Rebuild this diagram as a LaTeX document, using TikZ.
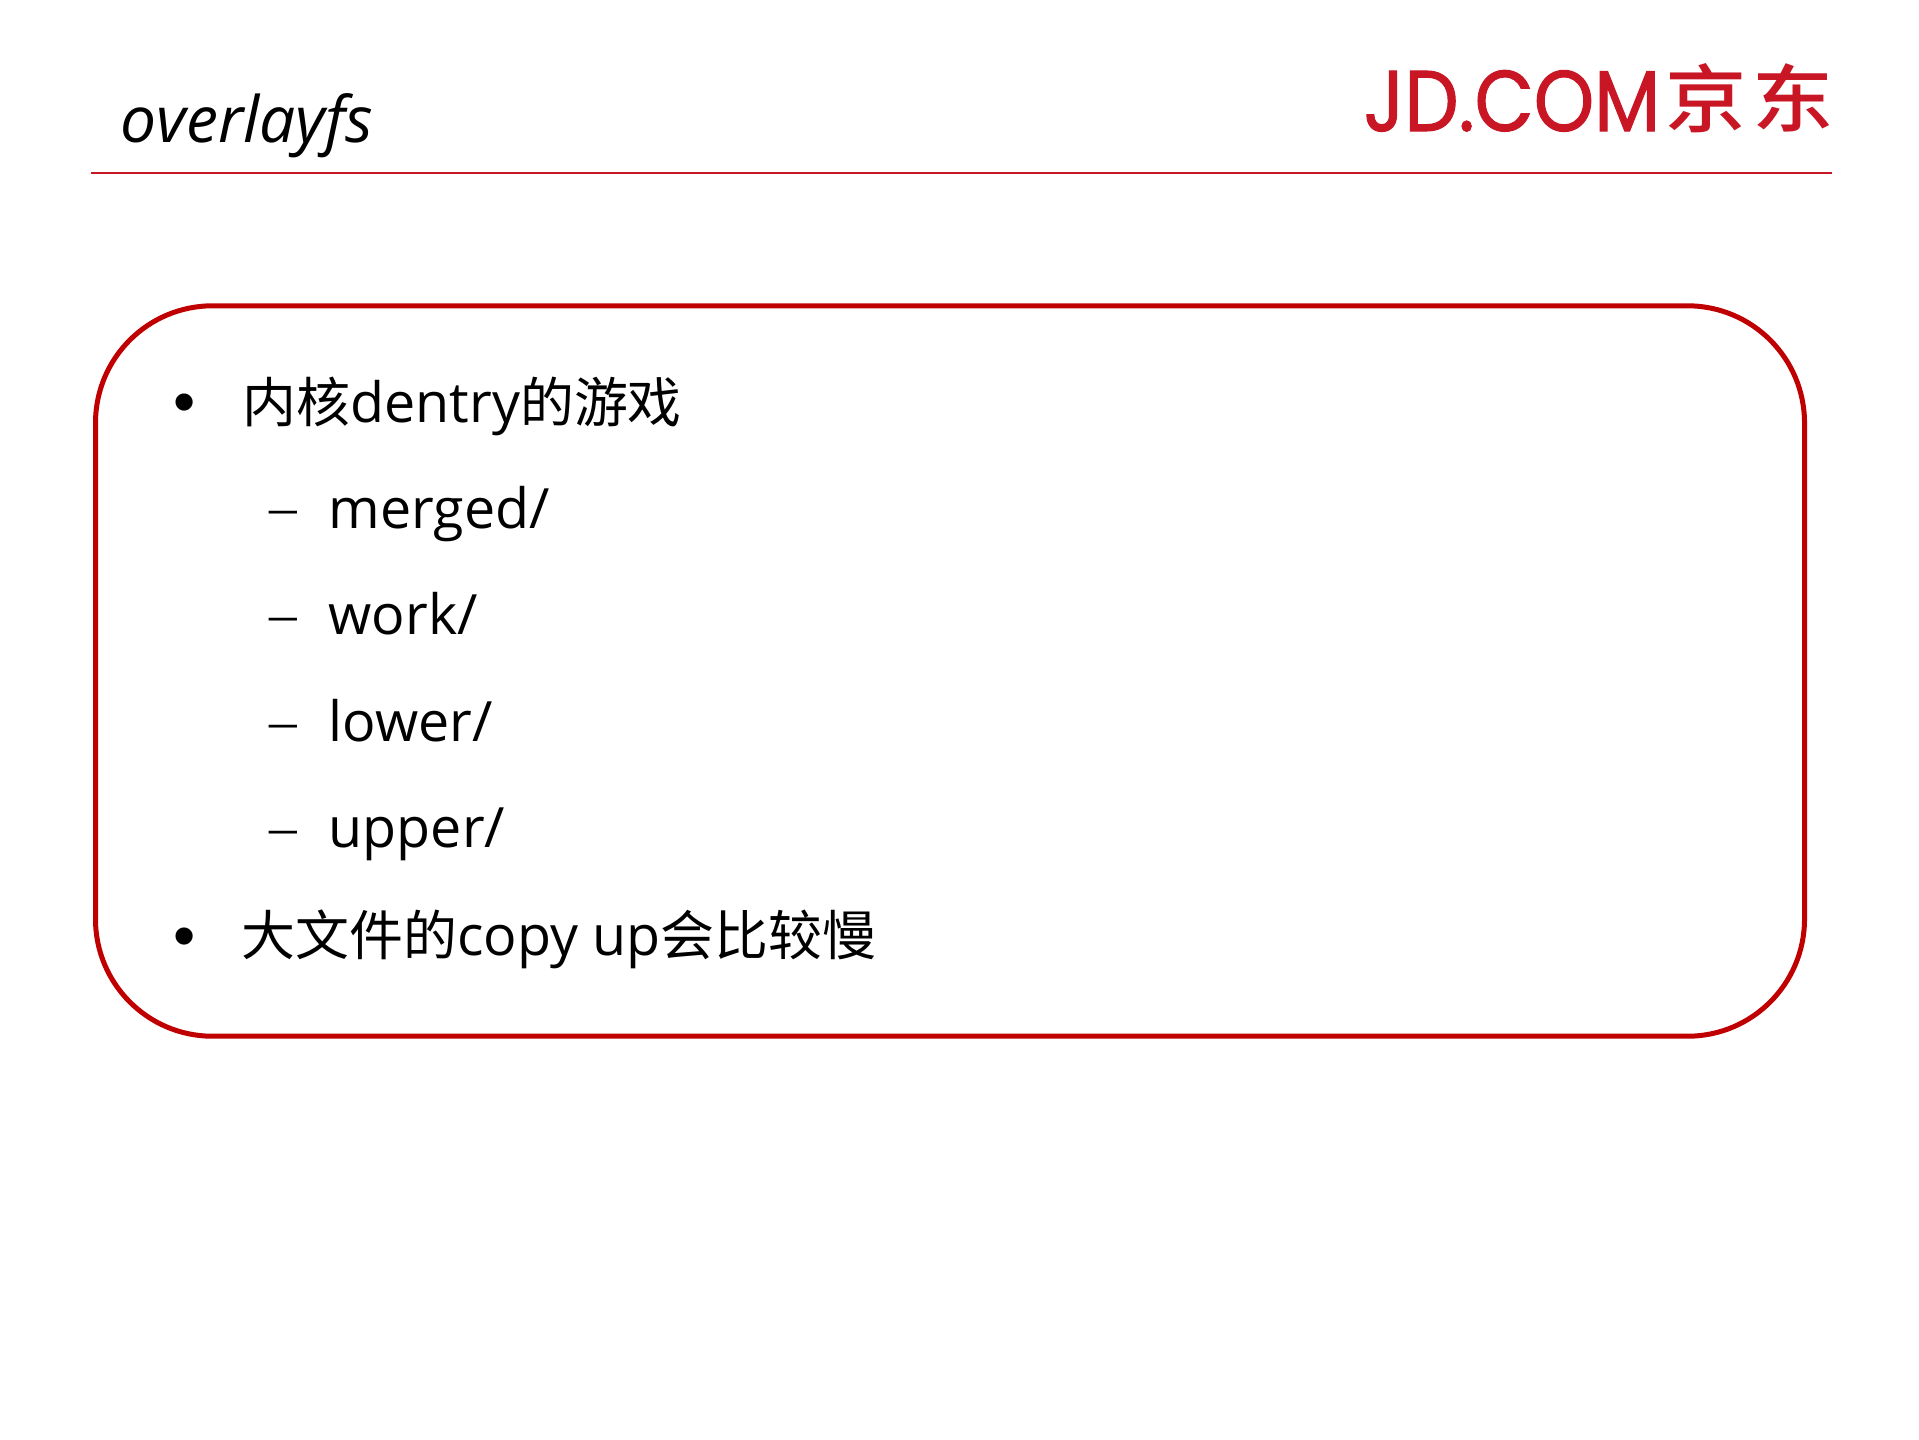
\documentclass[tikz,border=0pt]{standalone}
\usepackage{fontspec}
\setmainfont{Open Sans}
\newfontfamily\cjk[Scale=0.97]{Noto Sans CJK SC}
\newfontfamily\cjkbold[FakeStretch=1.1]{Noto Sans CJK SC Medium}
\newfontfamily\logofont[FakeStretch=0.89,FakeBold=1.2]{Poppins}
\newfontfamily\dashfont{Liberation Serif}
\newfontfamily\dotfont{Liberation Sans}
\definecolor{jdred}{RGB}{200,22,37}
\definecolor{boxred}{RGB}{192,0,0}

\begin{document}
\begin{tikzpicture}[x=0.01cm, y=-0.01cm,
    title/.style ={anchor=base west, inner sep=0pt, font=\fontsize{18.2}{18}\selectfont\itshape},
    item/.style ={anchor=base west, inner sep=0pt, font=\fontsize{15.8}{16}\selectfont},
    bullet/.style ={anchor=base, inner sep=0pt, font=\fontsize{18}{18}\dotfont},
    subdash/.style ={anchor=base, inner sep=0pt, font=\fontsize{15.7}{16}\dashfont},
    logo/.style ={anchor=base west, inner sep=0pt, text=jdred},
    panel/.style ={draw=boxred, line width=0.05cm, rounded corners=1.17cm, minimum width=17.08cm, minimum height=7.30cm, inner sep=0pt}]
   \useasboundingbox (0,0) rectangle (1919,1439);

   \node[title] (T) at (120,142) {overlayfs};
   \node[logo, font=\fontsize{24.5}{25}\logofont] (L) at (1363,131) {JD.COM};
   \node[logo, font=\fontsize{21}{25}\cjkbold] (J) at (1665,126) {京};
   \node[logo, font=\fontsize{21}{25}\cjkbold] (D) at (1752,126) {东};

   \coordinate (RL) at (91,173);
   \coordinate (RR) at (1832,173);
   \draw[jdred, line width=0.025cm] (RL) -- (RR);

   \node[panel] (P) at (950,671) {};

   \node[bullet] (B1) at (185,423) {•};
   \node[item] (I1) at (242,422) {{\cjk 内核}dentry{\cjk 的游戏}};
   \node[subdash] (D1) at (283,525) {–};
   \node[item] (I2) at (328,528) {merged/};
   \node[subdash] (D2) at (283,632) {–};
   \node[item] (I3) at (328,634) {work/};
   \node[subdash] (D3) at (283,739) {–};
   \node[item] (I4) at (328,741) {lower/};
   \node[subdash] (D4) at (283,845) {–};
   \node[item] (I5) at (328,847) {upper/};
   \node[bullet] (B2) at (185,957) {•};
   \node[item] (I6) at (241,955) {{\cjk 大文件的}copy up{\cjk 会比较慢}};
 \end{tikzpicture}
\end{document}
